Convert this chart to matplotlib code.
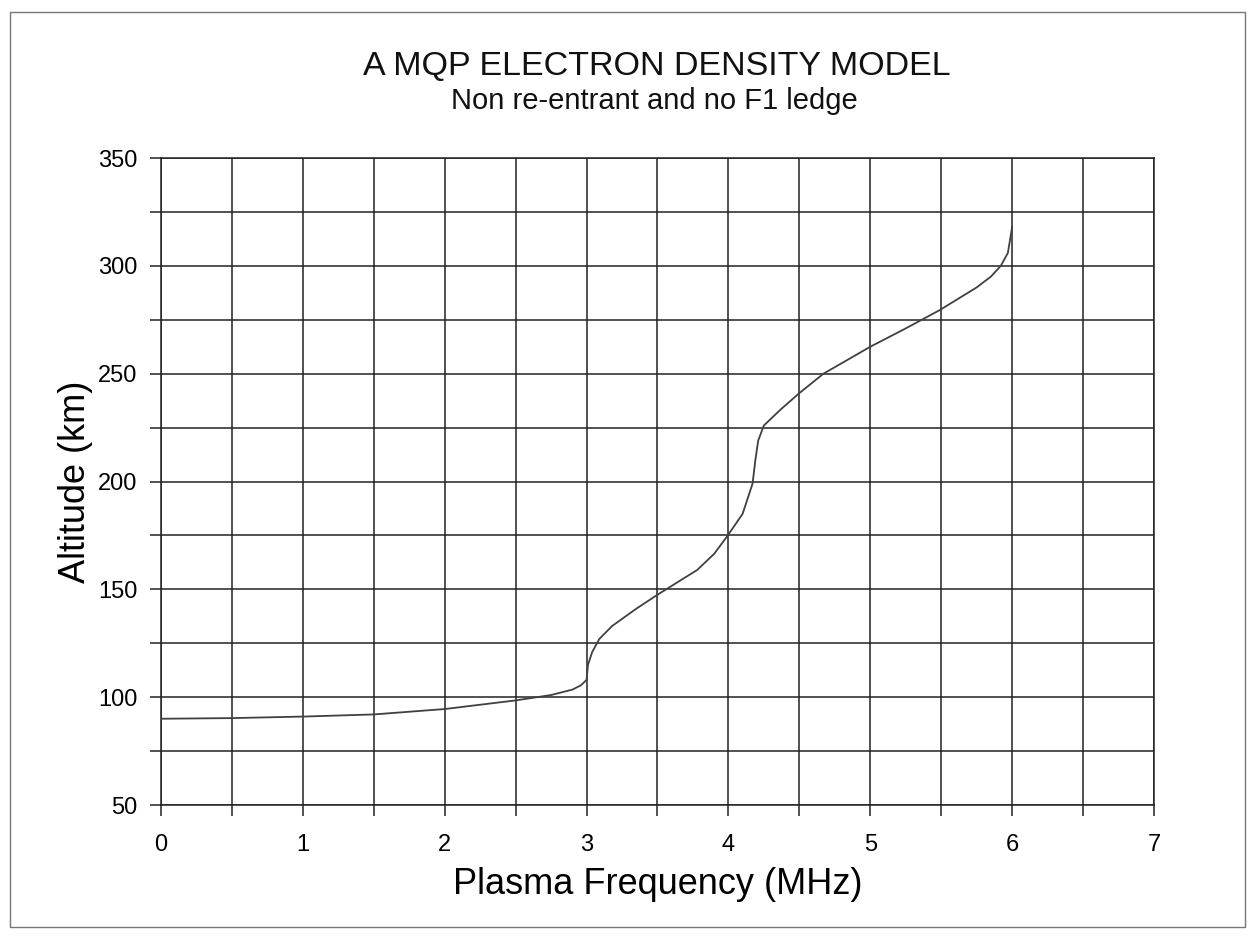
import matplotlib.pyplot as plt
from matplotlib.patches import Rectangle
from matplotlib.ticker import MultipleLocator

plt.rcParams['font.family'] = ['Liberation Sans', 'DejaVu Sans']

# MQP profile: plasma frequency (MHz) vs altitude (km)
freq_mhz = [0.0, 0.5, 1.0, 1.5, 2.0, 2.5, 2.75, 2.9, 2.96, 3.0, 3.01, 3.04,
            3.09, 3.18, 3.35, 3.5, 3.78, 3.9, 3.99, 4.1, 4.17, 4.19, 4.21,
            4.25, 4.37, 4.5, 4.67, 5.0, 5.25, 5.49, 5.75, 5.85, 5.92, 5.97,
            6.0]
altitude_km = [90, 90.3, 91, 92, 94.5, 98.5, 101, 103.5, 105.5, 108, 115,
               121, 127, 133, 141, 147.5, 159, 166.5, 174.5, 185, 199, 210,
               219, 226, 233.5, 241, 250, 262.5, 271, 279.5, 290, 295, 300,
               306, 318]

x_ticks = [0, 1, 2, 3, 4, 5, 6, 7]
y_ticks = [50, 100, 150, 200, 250, 300, 350]

fig = plt.figure(figsize=(12.55, 9.39), dpi=100)
ax = fig.add_axes([0.1283, 0.1427, 0.7912, 0.689])

ax.plot(freq_mhz, altitude_km, color='#404040', lw=1.3, zorder=3)

ax.set_xlim(0, 7)
ax.set_ylim(50, 350)
ax.set_xticks(x_ticks)
ax.set_yticks(y_ticks)
ax.xaxis.set_minor_locator(MultipleLocator(0.5))
ax.yaxis.set_minor_locator(MultipleLocator(25))
ax.grid(True, which='both', color='#222222', lw=1.1)
ax.set_axisbelow(True)
ax.tick_params(which='both', direction='out', length=8, width=1.1,
               color='#222222', labelsize=17)
ax.tick_params(axis='x', pad=13)
ax.tick_params(axis='y', pad=9)
for s in ax.spines.values():
    s.set_color('#222222')
    s.set_linewidth(1.1)

ax.set_xlabel('Plasma Frequency (MHz)', fontsize=26, labelpad=8)
ax.set_ylabel('Altitude (km)', fontsize=26)
ax.yaxis.set_label_coords(-0.0685, 0.5)

fig.text(0.5235, 0.9287, 'A MQP ELECTRON DENSITY MODEL', ha='center',
         va='center', fontsize=24.5, color='#111111')
fig.text(0.5215, 0.8924, 'Non re-entrant and no F1 ledge', ha='center',
         va='center', fontsize=21, color='#111111')

# outer frame around the whole chart
fig.patches.append(Rectangle((0.008, 0.013), 0.984, 0.974,
                             transform=fig.transFigure, fill=False,
                             edgecolor='#777777', lw=1.0))

fig.savefig('out.png', dpi=100, facecolor='white')
